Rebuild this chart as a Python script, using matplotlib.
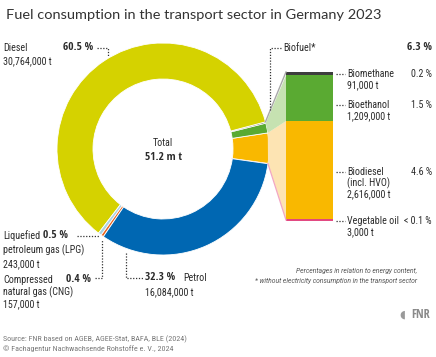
import numpy as np
import matplotlib
matplotlib.use("Agg")
import matplotlib.pyplot as plt
from matplotlib import font_manager as fm
from matplotlib.patches import Polygon

# ---------------- data ----------------
fuels = ["Vegetable oil", "Biodiesel", "Bioethanol", "Biomethane",
         "Diesel", "LPG", "CNG", "Petrol"]
energy_share = [0.05, 4.6, 1.5, 0.2, 60.5, 0.5, 0.4, 32.3]   # % energy content
bio_names = ["Vegetable oil", "Biodiesel", "Bioethanol", "Biomethane"]
bio_tonnes = [3000, 2616000, 1209000, 91000]
colors = {"Vegetable oil": "#e2457f", "Biodiesel": "#f9b800", "Bioethanol": "#5aaa32",
          "Biomethane": "#3d3d3d", "Diesel": "#d5d200", "LPG": "#a9d3e3",
          "CNG": "#e9621c", "Petrol": "#0067b2"}

W, H = 436, 357
def Y(p):
    return H - p

# ---------------- font selection ----------------
def find_condensed(bold):
    best = None
    for f in fm.fontManager.ttflist:
        nm = f.name.lower()
        fn = f.fname.lower()
        is_cond = ("narrow" in nm or "condensed" in nm or "narrow" in fn
                   or "condensed" in fn or str(f.stretch) in ("condensed", "semi-condensed"))
        if not is_cond or f.style != "normal":
            continue
        w = f.weight if isinstance(f.weight, int) else (700 if "bold" in str(f.weight) else 400)
        isb = w >= 600
        if isb != bold:
            continue
        if "mono" in nm or "serif" in nm and "sans" not in nm:
            continue
        score = 0 if ("liberation" in nm) else (1 if "roboto" in nm or "open" in nm or "noto" in nm else 2)
        if best is None or score < best[0]:
            best = (score, f.fname)
    return best[1] if best else None

reg_path = find_condensed(False)
bold_path = find_condensed(True)
if reg_path:
    FP_REG = fm.FontProperties(fname=reg_path)
    FP_BOLD = fm.FontProperties(fname=bold_path) if bold_path else fm.FontProperties(fname=reg_path, weight="bold")
else:
    FP_REG = fm.FontProperties(family="Roboto")
    FP_BOLD = fm.FontProperties(family="Roboto", weight="bold")
FP_TITLE = fm.FontProperties(family=["Lato", "Roboto", "DejaVu Sans"])
FP_ITAL = fm.FontProperties(family=["Roboto", "DejaVu Sans"], style="italic")

fig = plt.figure(figsize=(W / 100, H / 100), dpi=100)
ax = fig.add_axes([0, 0, 1, 1])
ax.set_xlim(0, W)
ax.set_ylim(0, H)
renderer = fig.canvas.get_renderer()

def fit_size(fp, sample, target_px, base=7.0):
    t = fig.text(0, 0, sample, fontproperties=fp, fontsize=base)
    w = t.get_window_extent(renderer).width
    t.remove()
    return base * target_px / w

S_LAB = min(7.2, fit_size(FP_REG, "30,764,000 t", 49))
S_PCT = min(8.2, fit_size(FP_BOLD, "60.5 %", 32))
S_TITLE = fit_size(FP_TITLE, "Fuel consumption in the transport sector in Germany 2023", 373)
S_NOTE = fit_size(FP_ITAL, "* without electricity consumption in the transport sector", 162)
S_SRC = fit_size(FP_REG, "Source: FNR based on AGEB, AGEE-Stat, BAFA, BLE (2024)", 184)

# ---------------- donut ----------------
cx, cy, R, ring = 163, Y(149), 106, 36
start = -8
wedges, _ = ax.pie(energy_share, colors=[colors[f] for f in fuels], startangle=start,
                   counterclock=True, center=(cx, cy), radius=R,
                   wedgeprops=dict(width=ring, edgecolor="white", linewidth=0.6))
wedges[0].set_edgecolor(colors["Vegetable oil"])
wedges[0].set_linewidth(0.8)

tot = sum(energy_share)
bounds = start + np.concatenate([[0], np.cumsum(energy_share)]) / tot * 360
def outer(theta, r=R):
    t = np.deg2rad(theta)
    return cx + r * np.cos(t), cy + r * np.sin(t)

# ---------------- stacked bar ----------------
bar_x0, bar_x1 = 286, 333
bar_bottom, bar_top = Y(220), Y(72)
scale = (bar_top - bar_bottom) / sum(bio_tonnes)
bottoms = []
b = bar_bottom
for name, t in zip(bio_names, bio_tonnes):
    h = t * scale
    ax.bar((bar_x0 + bar_x1) / 2, h, width=bar_x1 - bar_x0, bottom=b,
           color=colors[name], linewidth=0)
    bottoms.append(b)
    b += h
ax.plot([bar_x0, bar_x1], [bar_bottom, bar_bottom], color=colors["Vegetable oil"], lw=1.4,
        solid_capstyle="butt")

# connectors
light = {"Biodiesel": "#fde4b3", "Bioethanol": "#c6e2b1"}
for i, name in enumerate(bio_names):
    p0 = outer(bounds[i])
    p1 = outer(bounds[i + 1])
    yb = bottoms[i]
    yt = bottoms[i] + bio_tonnes[i] * scale
    if name in light:
        ax.add_patch(Polygon([p0, (bar_x0, yb), (bar_x0, yt), p1], closed=True,
                             facecolor=light[name], edgecolor="none", zorder=1))
pv = outer(bounds[0])
ax.plot([pv[0], bar_x0], [pv[1], bar_bottom], color="#f2a6c4", lw=0.9, zorder=2)
pm = outer(bounds[4])
ax.plot([pm[0], bar_x0], [pm[1], bar_top], color="#a8a8a8", lw=1.0, zorder=2)

# ---------------- texts ----------------
tc = "#2b2b2b"
def T(x, y, s, size=None, fp=None, ha="left", color=tc):
    ax.text(x, Y(y), s, fontproperties=fp or FP_REG, fontsize=size or S_LAB, ha=ha,
            va="center", color=color)

def P(x, y, s, ha="left"):
    T(x, y, s, size=S_PCT, fp=FP_BOLD, ha=ha)

def dots(xs, ys):
    ax.plot(xs, [Y(v) for v in ys], color="#333333", lw=0.9, ls=(0, (1, 1.3)), zorder=3)

T(6, 15, "Fuel consumption in the transport sector in Germany 2023", size=S_TITLE,
  fp=FP_TITLE, color="#333333")

# Diesel
T(3, 48, "Diesel")
T(3, 61, "30,764,000 t")
P(63, 48, "60.5 %")
dots([97, 108, 108], [48, 48, 57])

# Biofuel
T(283, 48, "Biofuel*")
P(432, 48, "6.3 %", ha="right")
gx = 270
gy = pm[1] + (bar_top - pm[1]) * (gx - pm[0]) / (bar_x0 - pm[0])
ax.plot([281, gx, gx], [Y(48), Y(48), gy + 1], color="#333333", lw=0.9,
        ls=(0, (1, 1.3)), zorder=3)

# right labels
rl = [
    (74, ["Biomethane", "91,000 t"], "0.2 %"),
    (105, ["Bioethanol", "1,209,000 t"], "1.5 %"),
    (172, ["Biodiesel", "(incl. HVO)", "2,616,000 t"], "4.6 %"),
    (221, ["Vegetable oil", "3,000 t"], "< 0.1 %"),
]
for y, lines, pct in rl:
    dots([336, 345], [y, y])
    for k, s in enumerate(lines):
        T(347, y + k * 11, s)
    T(432, y, pct, ha="right")

# LPG / CNG
T(3, 236, "Liquefied")
T(3, 250, "petroleum gas (LPG)")
T(3, 264, "243,000 t")
P(43, 236, "0.5 %")
dots([77, 99], [236, 236])
T(3, 280, "Compressed")
T(3, 292, "natural gas (CNG)")
T(3, 304, "157,000 t")
P(66, 280, "0.4 %")
dots([95, 102, 102], [278, 278, 239])

# Petrol
dots([126, 126, 144], [253, 278, 278])
P(145, 278, "32.3 %")
T(183, 278, "Petrol")
T(145, 292, "16,084,000 t")

# centre
T(cx, 143, "Total", ha="center")
T(cx, 158, "51.2 m t", size=S_PCT, fp=FP_BOLD, ha="center")

# notes
T(417, 271, "Percentages in relation to energy content,", size=S_NOTE, fp=FP_ITAL,
  ha="right", color="#555555")
T(417, 281, "* without electricity consumption in the transport sector", size=S_NOTE,
  fp=FP_ITAL, ha="right", color="#555555")

# source
T(3, 339, "Source: FNR based on AGEB, AGEE-Stat, BAFA, BLE (2024)", size=S_SRC, color="#777777")
T(3, 349, "\u00a9 Fachagentur Nachwachsende Rohstoffe e. V., 2024", size=S_SRC, color="#777777")

# logo
T(430, 315, "FNR", size=S_PCT + 0.5, fp=FP_BOLD, ha="right", color="#8a8a8a")
ax.text(405, Y(315), "\u25d6", fontsize=8, ha="right", va="center", color="#9a9a9a",
        family="DejaVu Sans")

ax.set_xlim(0, W)
ax.set_ylim(0, H)
ax.set_aspect("auto")
ax.axis("off")
fig.savefig("out.png", dpi=100, facecolor="white")
